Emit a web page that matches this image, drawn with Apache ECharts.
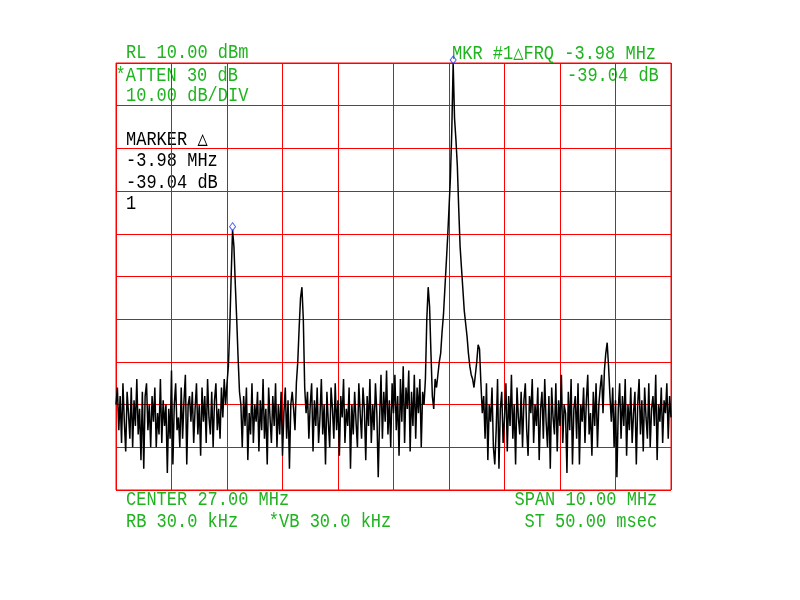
<!DOCTYPE html>
<html><head><meta charset="utf-8">
<script src="https://cdn.jsdelivr.net/npm/echarts@6/dist/echarts.min.js"></script>
<style>html,body{margin:0;padding:0;background:#fff}#c{width:800px;height:600px}</style>
</head><body><div id="c"></div>
<script>
// Frequency axis: 401 trace points from 22 MHz to 32 MHz
const freqStartMHz = 22;
const freqStepMHz = 0.025;
// Reference level / scale (dBm)
const yMin = -90, yMax = 10, yStep = 10;
const xMin = 22, xMax = 32, xStep = 1;

// Trace levels (dBm), segment by segment
const noiseA = [-70,-66,-76,-68,-79,-65,-74,-81,-67,-72,-78,-66,-80,-69,-75,-64,-77,-71,-83,-67,
  -85,-68,-65,-76,-70,-80,-68,-74,-66,-80,-72,-77,-64,-79,-69,-75,-70,-86,-71,-78,
  -62,-84,-70,-65,-76,-73,-80,-66,-78,-69,-63,-84,-70,-68,-74,-67,-79,-71,-65,-77,
  -70,-82,-66,-74,-68,-79,-64,-73,-77,-67,-80,-69,-65,-76,-71,-78,-66,-73,-64,-70];
const peak1 = [-65,-61,-52,-40,-29.04,-33,-42,-50,-59,-67];
const noiseB = [-70,-80,-68,-75,-66,-83,-72,-77,-65,-79,-70,-74,-67,-81,-69,-76,-64,-78,-71,-84,
  -66,-73,-79,-68,-75,-65,-80,-70,-77,-67,-82,-72,-66,-78,-69,-85,-70,-67,-71,-76,-65];
const peak2 = [-60,-52,-45,-42.5,-50,-66,-72];
const noiseC = [-67,-78,-70,-65,-81,-69,-75,-66,-79,-73,-64,-77,-70,-84,-67,-74,-80,-66,-71,
  -78,-65,-76,-69,-82,-68,-73,-64,-79,-71,-75,-66,-85,-70,-77,-67,-74,-80,-65,-72,
  -78,-66,-71,-83,-68,-75,-64,-79,-70,-76,-65,-72,-87,-73,-63,-78,-67,-74,-62,-77,
  -69,-80,-65,-72,-63,-76,-68,-82,-64,-74,-61,-79,-66,-71,-62,-81,-67,-75,-63,-78,
  -66,-72,-64,-80,-67,-70];
const mainPeak = [-64,-50,-42.5,-47,-58,-68,-71,-64,-66,-63,-60,-58,-53,-49,-43,-37,-31,-24,-17,-6,
  10,-3,-8,-14,-24,-33,-38,-43,-48,-51,-54,-58,-61,-63,-64,-66,-63,-60,-56,-57,-65,-72];
const noiseD = [-68,-78,-65,-83,-70,-74,-66,-80,-84,-76,-64,-85,-71,-67,-79,-73,-65,-81,-68,-75,
  -63,-78,-70,-84,-66,-73,-77,-67,-80,-69,-65,-76,-82,-68,-72,-64,-79,-70,-75,-66,
  -83,-71,-67,-78,-64,-74,-80,-68,-85,-66,-73,-77,-65,-81,-69,-75,-63,-79,-70,-72,
  -86,-67,-76,-64,-84,-71,-68,-78,-65,-84,-70,-74,-66,-79,-69,-63,-77,-72,-82,-67,
  -75,-65,-80,-70,-66,-63,-72];
const peak3 = [-62,-58,-55.5,-61,-68];
const noiseE = [-74,-66,-80,-69,-87,-71,-65,-78,-68,-75,-64,-82,-70,-76,-66,-79,-72,-67,-84,-70,
  -64,-77,-69,-81,-66,-73,-78,-65,-80,-71,-68,-75,-63,-83,-70,-74,-66,-79,-69,-72,
  -65,-78,-68,-73];
const levels = [].concat(noiseA, peak1, noiseB, peak2, noiseC, mainPeak, noiseD, peak3, noiseE);
// marker positions (trace point indices)
const markerIdx = [84, 243];

// Annotation texts
const headerLeft = ['RL 10.00 dBm', '*ATTEN 30 dB', '10.00 dB/DIV'];
const markerBlock = ['MARKER \u25B3', '-3.98 MHz', '-39.04 dB', '1'];
const headerRight = ['MKR #1\u25B3FRQ -3.98 MHz', '-39.04 dB'];
const footerLeft = ['CENTER 27.00 MHz', 'RB 30.0 kHz   *VB 30.0 kHz'];
const footerRight = ['SPAN 10.00 MHz', 'ST 50.00 msec'];

const GREEN = '#1fb41f', RED = '#ff0000', BLACK = '#000';
const trace = levels.map((v, i) => [freqStartMHz + i * freqStepMHz, v]);
const markers = markerIdx.map(i => trace[i]);

function txt(s, x, y, color) {
  return { type: 'text', x: x, y: y, scaleY: 1.18, silent: true,
    style: { text: s, fill: color, font: '17px "Liberation Mono", monospace', textVerticalAlign: 'middle', textAlign: 'left' } };
}
const g = [];
g.push(txt(headerLeft[0], 126, 53, GREEN));
g.push(txt(headerLeft[1], 115.5, 76, GREEN));
g.push(txt(headerLeft[2], 126, 96, GREEN));
markerBlock.forEach((s, k) => g.push(txt(s, 126, [139.5, 161, 182.5, 203.5][k], BLACK)));
g.push(txt(headerRight[0], 452, 53.5, GREEN));
g.push(txt(headerRight[1], 567, 75.5, GREEN));
g.push(txt(footerLeft[0], 126, 500, GREEN));
g.push(txt(footerLeft[1], 126, 522, GREEN));
g.push(txt(footerRight[0], 514.5, 500, GREEN));
g.push(txt(footerRight[1], 524.5, 522, GREEN));

const chart = echarts.init(document.getElementById('c'), null, { renderer: 'canvas' });
chart.setOption({
  animation: false,
  backgroundColor: '#fff',
  grid: { left: 116, top: 63, width: 555, height: 427, show: true, borderColor: RED, borderWidth: 1, backgroundColor: 'transparent' },
  xAxis: { type: 'value', min: xMin, max: xMax, interval: xStep,
    axisLine: { show: false }, axisTick: { show: false }, axisLabel: { show: false },
    splitLine: { show: true, lineStyle: { color: RED, width: 1 } } },
  yAxis: { type: 'value', min: yMin, max: yMax, interval: yStep,
    axisLine: { show: false }, axisTick: { show: false }, axisLabel: { show: false },
    splitLine: { show: true, lineStyle: { color: RED, width: 1 } } },
  series: [
    { type: 'line', data: trace, showSymbol: false, symbol: 'none', silent: true,
      lineStyle: { color: BLACK, width: 1.5 }, z: 3 },
    { type: 'scatter', data: markers, symbol: 'diamond', symbolSize: [6, 8], symbolOffset: [0, -3],
      itemStyle: { color: 'rgba(0,0,0,0)', borderColor: '#2233ff', borderWidth: 1 }, z: 4, silent: true }
  ],
  graphic: g
});
</script></body></html>
